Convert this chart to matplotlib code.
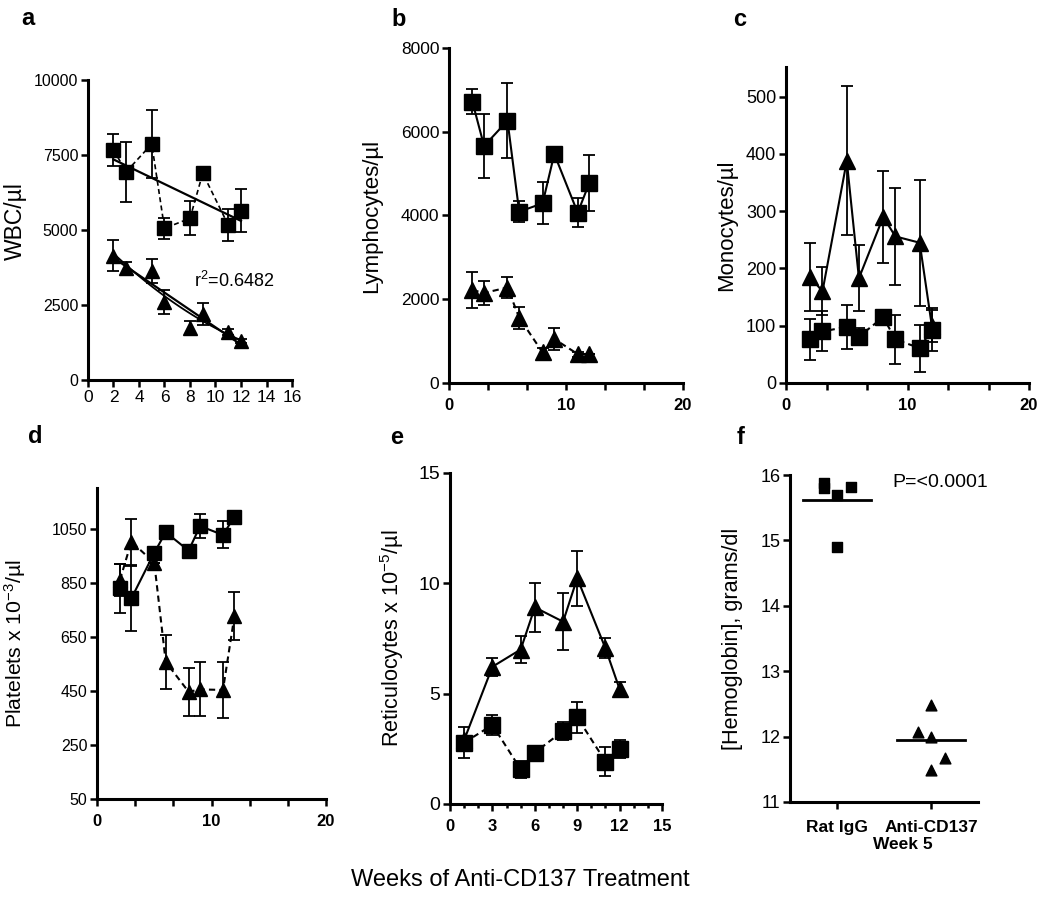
import numpy as np
import matplotlib
matplotlib.use("Agg")
import matplotlib.pyplot as plt

plt.rcParams['font.family'] = ['Liberation Sans', 'DejaVu Sans']
plt.rcParams['mathtext.fontset'] = 'custom'
plt.rcParams['mathtext.rm'] = 'Liberation Sans'
plt.rcParams['mathtext.it'] = 'Liberation Sans:italic'
plt.rcParams['mathtext.bf'] = 'Liberation Sans:bold'

# weeks of treatment
weeks = [2, 3, 5, 6, 8, 9, 11, 12]
weeks_e = [1, 3, 5, 6, 8, 9, 11, 12]

# a - WBC
wbc_sq = [7667, 6944, 7867, 5056, 5389, 6889, 5167, 5644]
wbc_sq_err = [550, 1000, 1150, 350, 570, 150, 530, 710]
wbc_tri = [4150, 3750, 3650, 2600, 1750, 2200, 1600, 1300]
wbc_tri_err = [530, 200, 400, 400, 230, 380, 100, 80]

# b - lymphocytes
lym_sq = [6718, 5660, 6264, 4091, 4290, 5469, 4067, 4783]
lym_sq_err = [300, 760, 900, 250, 500, 0, 350, 670]
lym_tri = [2220, 2150, 2280, 1560, 730, 1050, 690, 700]
lym_tri_err = [440, 290, 250, 260, 100, 260, 60, 0]

# c - monocytes
mono_tri = [185, 160, 388, 183, 290, 256, 245, 100]
mono_tri_err = [60, 42, 130, 58, 80, 85, 110, 28]
mono_sq = [76, 90, 98, 81, 115, 76, 61, 93]
mono_sq_err = [35, 35, 38, 15, 5, 42, 41, 38]

# d - platelets
plt_sq = [830, 793, 962, 1038, 970, 1061, 1028, 1096]
plt_sq_err = [90, 120, 0, 0, 0, 45, 50, 0]
plt_tri = [861, 1003, 925, 558, 447, 456, 454, 728]
plt_tri_err = [60, 85, 0, 100, 90, 100, 105, 90]

# e - reticulocytes
ret_tri = [2.9, 6.22, 7.0, 8.91, 8.26, 10.23, 7.05, 5.2]
ret_tri_err = [0, 0.4, 0.6, 1.1, 1.3, 1.25, 0.45, 0.35]
ret_sq = [2.78, 3.58, 1.57, 2.33, 3.31, 3.93, 1.92, 2.48]
ret_sq_err = [0.7, 0.45, 0.4, 0, 0.4, 0.7, 0.65, 0.4]

# f - hemoglobin at week 5
groups = ['Rat IgG', 'Anti-CD137']
hb_rat = [15.88, 15.8, 15.69, 15.81, 14.9]
hb_anti = [12.48, 12.07, 11.99, 11.68, 11.49]
rat_jitter = [-0.14, -0.14, 0, 0.15, 0]
anti_jitter = [0, -0.14, 0, 0.15, 0]

fig = plt.figure(figsize=(10.5, 8.99), dpi=100)

def style(ax, ysize=12):
    for s in ['top', 'right']:
        ax.spines[s].set_visible(False)
    for s in ['left', 'bottom']:
        ax.spines[s].set_linewidth(2.2)
    ax.tick_params(direction='out', length=5, width=1.8, labelsize=ysize, pad=2)

def eb(ax, x, y, err, marker, ls, ms=10, lw=1.5):
    ax.errorbar(x, y, yerr=err, fmt=marker, ls=ls, color='k', ms=ms, lw=lw,
                capsize=4, elinewidth=1.3, capthick=1.3, dashes=(3, 2) if ls == '--' else (None, None))

def wide_xticks(ax):
    ax.set_xlim(0, 20)
    ax.set_xticks(np.linspace(0, 20, 7))
    ax.set_xticklabels(['0', '', '', '10', '', '', '20'],
                       fontweight='bold', family=['Liberation Sans Narrow', 'Liberation Sans'], fontsize=12)
    ax.tick_params(axis='x', pad=6)

# ---- a
ax = fig.add_axes([0.0838, 0.5773, 0.1943, 0.3337])
style(ax, 11.5)
ax.errorbar(weeks, wbc_sq, yerr=wbc_sq_err, fmt='s', ls='--', dashes=(3, 2), color='k', ms=10,
            lw=1.2, capsize=4, elinewidth=1.3, capthick=1.3)
ax.errorbar(weeks, wbc_tri, yerr=wbc_tri_err, fmt='^', ls='none', color='k', ms=10,
            capsize=4, elinewidth=1.3, capthick=1.3)
xs = np.array([min(weeks), max(weeks)])
p = np.polyfit(weeks, wbc_sq, 1)
ax.plot(xs, np.polyval(p, xs), color='k', lw=1.6)
p = np.polyfit(weeks, wbc_tri, 1)
ax.plot(xs, np.polyval(p, xs), color='k', lw=1.6)
xc = np.linspace(min(weeks), max(weeks), 50)
p2 = np.polyfit(weeks, wbc_tri, 2)
ax.plot(xc, np.polyval(p2, xc), color='k', lw=1.3)
ax.text(8.3, 3300, 'r$^2$=0.6482', fontsize=13, va='center')
ax.set_xlim(0, 16)
ax.set_ylim(0, 10000)
ax.set_xticks(range(0, 17, 2))
ax.set_xticklabels([str(v) for v in range(0, 17, 2)],
                   family=['Liberation Sans Narrow', 'Liberation Sans'], fontsize=12.5)
ax.set_yticks([0, 2500, 5000, 7500, 10000])
ax.set_ylabel('WBC/µl', fontsize=16.5)
ax.yaxis.set_label_coords(-0.3, 0.53)

# ---- b
ax = fig.add_axes([0.4276, 0.574, 0.2229, 0.3726])
style(ax, 12.5)
eb(ax, weeks, lym_sq, lym_sq_err, 's', '-', ms=11)
eb(ax, weeks, lym_tri, lym_tri_err, '^', '--', ms=11)
ax.set_ylim(0, 8000)
ax.set_yticks(range(0, 8001, 2000))
wide_xticks(ax)
ax.set_ylabel('Lymphocytes/µl', fontsize=16)
ax.yaxis.set_label_coords(-0.285, 0.5)

# ---- c
ax = fig.add_axes([0.7486, 0.574, 0.2314, 0.3515])
style(ax, 13)
eb(ax, weeks, mono_tri, mono_tri_err, '^', '-', ms=11)
eb(ax, weeks, mono_sq, mono_sq_err, 's', '--', ms=11)
ax.set_ylim(0, 552)
ax.set_yticks(range(0, 501, 100))
wide_xticks(ax)
ax.set_ylabel('Monocytes/µl', fontsize=16)
ax.yaxis.set_label_coords(-0.2, 0.5)

# ---- d
ax = fig.add_axes([0.0924, 0.1112, 0.2181, 0.346])
style(ax, 11.5)
eb(ax, weeks, plt_tri, plt_tri_err, '^', '--', ms=10)
eb(ax, weeks, plt_sq, plt_sq_err, 's', '-', ms=10)
ax.set_ylim(50, 1202)
ax.set_yticks(range(50, 1051, 200))
wide_xticks(ax)
ax.set_ylabel('Platelets x 10$^{-3}$/µl', fontsize=15.3)
ax.yaxis.set_label_coords(-0.3, 0.5)

# ---- e
ax = fig.add_axes([0.4286, 0.1057, 0.2019, 0.3682])
style(ax, 14)
eb(ax, weeks_e, ret_tri, ret_tri_err, '^', '-', ms=11)
eb(ax, weeks_e, ret_sq, ret_sq_err, 's', '--', ms=11)
ax.set_xlim(0, 15)
ax.set_ylim(0, 15)
ax.set_yticks([0, 5, 10, 15])
ax.set_xticks(range(0, 16, 3))
ax.set_xticks(range(0, 16), minor=True)
ax.set_xticklabels([str(v) for v in range(0, 16, 3)], fontweight='bold', fontsize=12)
ax.tick_params(axis='x', which='minor', length=3, width=1.8)
ax.tick_params(axis='x', pad=6)
ax.set_ylabel('Reticulocytes x 10$^{-5}$/µl', fontsize=15.6)
ax.yaxis.set_label_coords(-0.21, 0.5)

# ---- f
ax = fig.add_axes([0.7524, 0.1079, 0.179, 0.3637])
style(ax, 13)
ax.scatter(np.array(rat_jitter) + 0, hb_rat, marker='s', s=60, color='k', zorder=3)
ax.scatter(np.array(anti_jitter) + 1, hb_anti, marker='^', s=60, color='k', zorder=3)
for i, vals in enumerate([hb_rat, hb_anti]):
    ax.plot([i - 0.36, i + 0.36], [np.mean(vals)] * 2, color='k', lw=2)
ax.text(0.59, 15.88, 'P=<0.0001', fontsize=14, va='center')
ax.set_xlim(-0.5, 1.5)
ax.set_ylim(11, 16)
ax.set_yticks(range(11, 17))
ax.set_xticks([0, 1])
ax.set_xticklabels(groups, fontweight='bold', fontsize=12.5)
ax.tick_params(axis='x', pad=8)
ax.text(0.6, -0.13, 'Week 5', transform=ax.transAxes, ha='center', va='center',
        fontweight='bold', fontsize=12.5)
ax.set_ylabel('[Hemoglobin], grams/dl', fontsize=15.6)
ax.yaxis.set_label_coords(-0.25, 0.5)

# panel letters and shared label
for lab, x, y in [('a', 0.0267, 0.979), ('b', 0.380, 0.978), ('c', 0.704, 0.978),
                  ('d', 0.034, 0.514), ('e', 0.378, 0.513), ('f', 0.705, 0.513)]:
    fig.text(x, y, lab, fontsize=17, fontweight='bold', ha='center', va='center')
fig.text(0.496, 0.021, 'Weeks of Anti-CD137 Treatment', fontsize=17, ha='center', va='center')

fig.savefig('out.png', dpi=100)
